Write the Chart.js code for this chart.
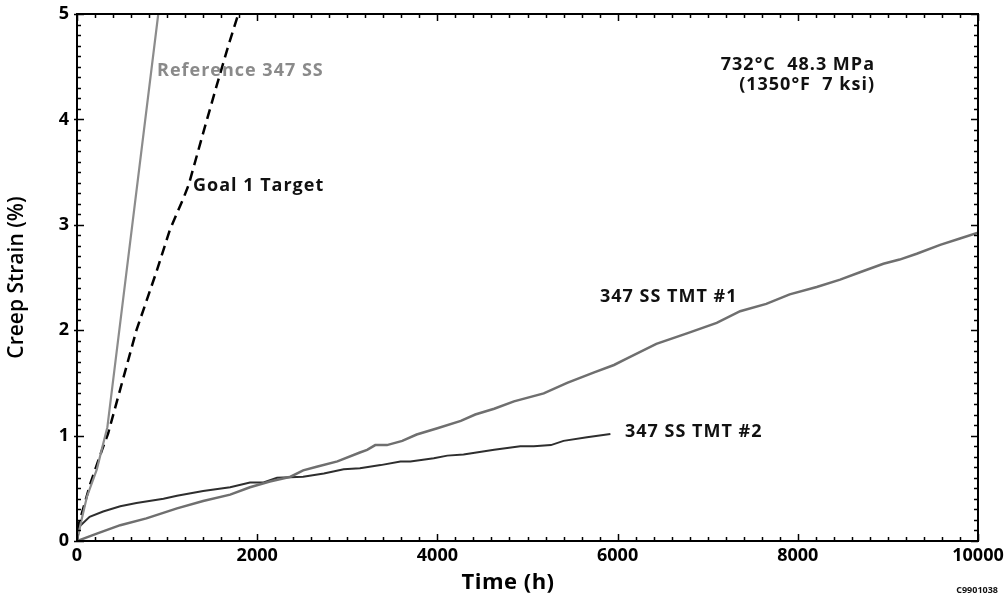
<!DOCTYPE html>
<html>
<head>
<meta charset="utf-8">
<script src="https://cdn.jsdelivr.net/npm/chart.js@4.4.1/dist/chart.umd.min.js"></script>
<style>
  html, body { margin: 0; padding: 0; background: #fff; }
  #wrap { width: 1006px; height: 601px; }
</style>
</head>
<body>
<div id="wrap"><canvas id="creepChart" width="1006" height="601"></canvas></div>
<script>
// values (time in h, creep strain in %)
const refTime   = [0, 50, 110, 220, 290, 337, 902];
const refStrain = [0, 0.2, 0.42, 0.68, 0.92, 1.08, 5.0];

const goalTime   = [0, 40, 150, 280, 345, 660, 880, 1030, 1180, 1240, 1400, 1550, 1680, 1790];
const goalStrain = [0.1, 0.22, 0.55, 0.87, 1.02, 2.0, 2.55, 2.95, 3.25, 3.38, 3.87, 4.32, 4.7, 5.0];

const tmt1Time = [0, 220, 480, 770, 1110, 1400, 1700, 1920, 2140, 2370, 2510, 2660, 2890, 3140, 3220, 3310,
  3440, 3610, 3770, 4000, 4260, 4420, 4630, 4850, 5180, 5440, 5740, 5960, 6100, 6430, 6770, 7100, 7360,
  7650, 7910, 8210, 8470, 8690, 8950, 9130, 9320, 9580, 9800, 10000];
const tmt1Strain = [0, 0.07, 0.15, 0.215, 0.31, 0.38, 0.44, 0.51, 0.565, 0.61, 0.67, 0.705, 0.755, 0.84, 0.865, 0.91,
  0.91, 0.95, 1.01, 1.07, 1.14, 1.2, 1.255, 1.325, 1.4, 1.5, 1.6, 1.67, 1.73, 1.87, 1.97, 2.07, 2.18,
  2.25, 2.34, 2.41, 2.48, 2.55, 2.63, 2.67, 2.725, 2.81, 2.87, 2.925];

const tmt2Time = [0, 30, 140, 290, 480, 660, 960, 1110, 1400, 1700, 1920, 2070, 2220, 2510, 2740, 2960, 3140,
  3370, 3590, 3700, 3960, 4110, 4290, 4630, 4920, 5070, 5260, 5400, 5660, 5920];
const tmt2Strain = [0, 0.14, 0.23, 0.28, 0.33, 0.36, 0.40, 0.43, 0.475, 0.51, 0.555, 0.555, 0.60, 0.61, 0.64, 0.68, 0.69,
  0.72, 0.755, 0.755, 0.785, 0.81, 0.82, 0.865, 0.90, 0.90, 0.91, 0.95, 0.985, 1.015];

const xTicks = [0, 2000, 4000, 6000, 8000, 10000];
const yTicks = [0, 1, 2, 3, 4, 5];

// in-plot labels, anchored in data units
const notes = [
  { text: "Reference 347 SS", x: 888, y: 4.46, color: "#8a8a8a", align: "left" },
  { text: "Goal 1 Target", x: 1287, y: 3.365, color: "#111", align: "left" },
  { text: "347 SS TMT #1", x: 5805, y: 2.32, color: "#111", align: "left" },
  { text: "347 SS TMT #2", x: 6082, y: 1.036, color: "#111", align: "left" },
  { text: "732°C  48.3 MPa", x: 8857, y: 4.515, color: "#111", align: "right" },
  { text: "(1350°F  7 ksi)", x: 8857, y: 4.325, color: "#111", align: "right" }
];

const FONT = "'Open Sans', 'DejaVu Sans', sans-serif";

function pts(xs, ys) {
  return xs.map((x, i) => ({ x: x, y: ys[i] }));
}

const framePlugin = {
  id: "frame",
  afterDatasetsDraw(chart) {
    const c = chart.ctx;
    const a = chart.chartArea;
    const xs = chart.scales.x, ys = chart.scales.y;
    c.save();
    c.strokeStyle = "#000";
    c.lineWidth = 2;
    c.strokeRect(a.left, a.top, a.right - a.left, a.bottom - a.top);

    c.lineWidth = 1.5;
    c.beginPath();
    // x ticks every 200 h, bottom and top, pointing inwards
    for (let v = 0; v <= 10000; v += 200) {
      const px = Math.round(xs.getPixelForValue(v)) + 0.5;
      const len = v % 2000 === 0 ? 7 : 4;
      c.moveTo(px, a.bottom); c.lineTo(px, a.bottom - len);
      c.moveTo(px, a.top); c.lineTo(px, a.top + len);
    }
    // y ticks every 0.1 %
    for (let i = 0; i <= 50; i++) {
      const py = Math.round(ys.getPixelForValue(i / 10)) + 0.5;
      const len = i % 10 === 0 ? 7 : 4;
      c.moveTo(a.left, py); c.lineTo(a.left + len, py);
      c.moveTo(a.right, py); c.lineTo(a.right - len, py);
      if (i % 10 === 0) { c.moveTo(a.left, py); c.lineTo(a.left - 3, py); }
    }
    c.stroke();

    c.font = "bold 18px " + FONT;
    c.letterSpacing = "1px";
    c.textBaseline = "middle";
    notes.forEach(n => {
      c.fillStyle = n.color;
      c.textAlign = n.align;
      c.fillText(n.text, xs.getPixelForValue(n.x), ys.getPixelForValue(n.y));
    });

    c.font = "bold 22px " + FONT;
    c.letterSpacing = "0.5px";
    c.fillStyle = "#000";
    c.textAlign = "center";
    c.fillText("Time (h)", 508, 583);

    c.font = "bold 9px " + FONT;
    c.letterSpacing = "0px";
    c.fillStyle = "#111";
    c.textAlign = "right";
    c.fillText("C9901038", 998, 590);
    c.restore();
  }
};

new Chart(document.getElementById("creepChart"), {
  type: "scatter",
  data: {
    datasets: [
      { label: "Reference 347 SS", data: pts(refTime, refStrain), borderColor: "#8c8c8c", borderWidth: 2.2 },
      { label: "Goal 1 Target", data: pts(goalTime, goalStrain), borderColor: "#000", borderWidth: 2.5, borderDash: [10, 6] },
      { label: "347 SS TMT #1", data: pts(tmt1Time, tmt1Strain), borderColor: "#6f6f6f", borderWidth: 2.5 },
      { label: "347 SS TMT #2", data: pts(tmt2Time, tmt2Strain), borderColor: "#2e2e2e", borderWidth: 2 }
    ].map(d => Object.assign(d, { showLine: true, pointRadius: 0, tension: 0, fill: false }))
  },
  options: {
    responsive: false,
    animation: false,
    layout: { padding: { top: 14, right: 28, left: 0, bottom: 0 } },
    plugins: { legend: { display: false }, tooltip: { enabled: false } },
    scales: {
      x: {
        type: "linear", min: 0, max: 10000,
        afterBuildTicks: s => { s.ticks = xTicks.map(v => ({ value: v })); },
        afterFit: s => { s.height = 60; s.paddingLeft = 0; s.paddingRight = 0; },
        grid: { display: false, drawTicks: false },
        border: { display: false },
        ticks: { color: "#000", font: { family: FONT, size: 18, weight: "bold" }, padding: 4, maxRotation: 0,
                 callback: v => String(v) },
        title: { display: false }
      },
      y: {
        type: "linear", min: 0, max: 5,
        afterBuildTicks: s => { s.ticks = yTicks.map(v => ({ value: v })); },
        afterFit: s => { s.width = 77; s.paddingTop = 0; s.paddingBottom = 0; },
        grid: { display: false, drawTicks: false },
        border: { display: false },
        ticks: { color: "#000", font: { family: FONT, size: 18, weight: "bold" }, padding: 8,
                 callback: v => String(v) },
        title: { display: true, text: "Creep Strain (%)", color: "#000", font: { family: FONT, size: 21, weight: "600" }, padding: { top: 4, bottom: 0 } }
      }
    }
  },
  plugins: [framePlugin]
});
</script>
</body>
</html>
